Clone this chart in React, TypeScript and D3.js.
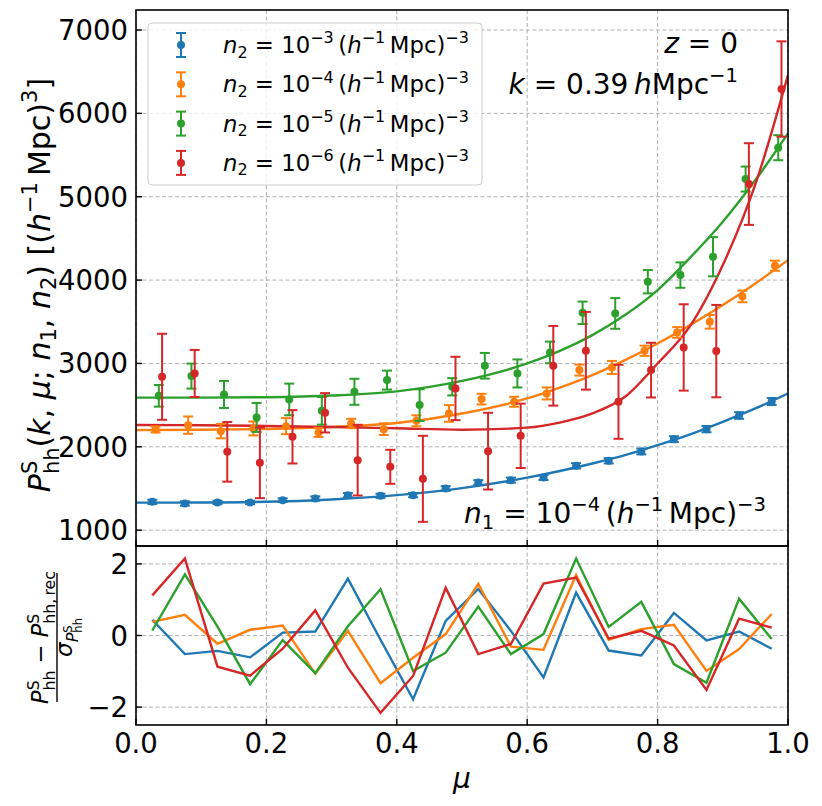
import React from 'react';
import * as d3 from 'd3';

// ---------- data ----------
const muBins = [0.025, 0.075, 0.125, 0.175, 0.225, 0.275, 0.325, 0.375, 0.425, 0.475,
  0.525, 0.575, 0.625, 0.675, 0.725, 0.775, 0.825, 0.875, 0.925, 0.975];
const seriesShift = [0, 0.005, 0.01, 0.015];
const seriesExp = ['−3', '−4', '−5', '−6'];

const pBlue = [1340, 1320, 1332, 1332, 1360, 1380, 1420, 1412, 1420, 1500, 1572, 1600, 1632, 1772, 1832, 1944, 2092, 2212, 2376, 2544];
const eBlue = [25, 25, 20, 20, 22, 25, 25, 25, 25, 28, 28, 30, 30, 32, 32, 35, 35, 38, 40, 42];
const pOrange = [2208, 2260, 2188, 2220, 2248, 2172, 2280, 2212, 2312, 2400, 2572, 2540, 2640, 2920, 2952, 3152, 3372, 3500, 3804, 4172];
const eOrange = [36, 104, 86, 84, 96, 54, 56, 70, 66, 100, 64, 60, 72, 66, 78, 62, 64, 82, 70, 60];
const pGreen = [2612, 2848, 2628, 2352, 2568, 2432, 2660, 2800, 2500, 2720, 2972, 2880, 3132, 3608, 3600, 3980, 4060, 4280, 5212, 5588];
const eGreen = [130, 150, 162, 174, 190, 166, 156, 114, 190, 104, 154, 168, 130, 134, 184, 140, 152, 235, 150, 150];
const pRed = [2840, 2880, 1940, 1808, 2120, 2408, 1840, 1760, 1616, 2700, 1948, 2132, 2972, 3152, 2540, 2920, 3192, 3148, 5152, 6292];
const eRed = [516, 282, 358, 424, 320, 236, 424, 204, 516, 380, 460, 386, 478, 466, 444, 328, 518, 554, 490, 572];

const curveMu = [0, 0.1, 0.2, 0.3, 0.4, 0.5, 0.6, 0.65, 0.7, 0.75, 0.8, 0.85, 0.9, 0.95, 1.0];
const fitBlue = [1330, 1332, 1340, 1368, 1420, 1505, 1630, 1710, 1800, 1900, 2020, 2150, 2300, 2460, 2640];
const fitOrange = [2200, 2204, 2214, 2238, 2285, 2400, 2580, 2710, 2860, 3040, 3240, 3460, 3700, 3960, 4240];
const fitGreen = [2590, 2590, 2595, 2615, 2665, 2790, 3000, 3150, 3340, 3580, 3880, 4270, 4700, 5200, 5760];
const fitRed = [2262, 2258, 2250, 2238, 2222, 2205, 2230, 2290, 2400, 2600, 3000, 3450, 4180, 5150, 6460];

const resBlue = [0.44, -0.52, -0.43, -0.61, 0.08, 0.11, 1.59, -0.12, -1.78, 0.41, 1.30, 0.13, -1.17, 1.20, -0.42, -0.56, 0.63, -0.14, 0.11, -0.37];
const resOrange = [0.38, 0.58, -0.23, 0.16, 0.28, -1.07, 0.13, -1.33, -0.62, 0.04, 1.44, -0.31, -0.40, 1.69, -0.12, 0.18, 0.30, -0.99, -0.38, 0.60];
const resGreen = [0.14, 1.71, 0.25, -1.36, -0.13, -1.05, 0.26, 1.29, -0.99, -0.48, 0.81, -0.52, 0.04, 2.15, 0.24, 0.94, -0.80, -1.32, 1.03, -0.10];
const resRed = [1.12, 2.15, -0.87, -1.12, -0.37, 0.70, -0.90, -2.16, -1.13, 1.33, -0.52, -0.24, 1.45, 1.62, -0.09, 0.13, -0.28, -1.52, 0.47, 0.22];

const xTicks = [0, 0.2, 0.4, 0.6, 0.8, 1.0];
const xTickLabels = ['0.0', '0.2', '0.4', '0.6', '0.8', '1.0'];
const yTicksTop = [1000, 2000, 3000, 4000, 5000, 6000, 7000];
const yTicksBot = [-2, 0, 2];
const yTickLabelsBot = ['−2', '0', '2'];

const points = [pBlue, pOrange, pGreen, pRed];
const errors = [eBlue, eOrange, eGreen, eRed];
const fits = [fitBlue, fitOrange, fitGreen, fitRed];
const residuals = [resBlue, resOrange, resGreen, resRed];

// ---------- styles ----------
const colors = ['#1f77b4', '#ff7f0e', '#2ca02c', '#d62728'];
const FONT = 'DejaVu Sans';
const L = 136, R = 788, T1 = 10, B1 = 546, T2 = 546, B2 = 725;

type Seg = { t: string; it?: boolean; s?: number; o?: number; dx?: number };
const SUP = { s: 0.7, o: -0.42 };
const SUB = { s: 0.7, o: 0.2 };
const SUBST = { s: 0.7, o: 0.3 };

function MText(props: { x: number; y: number; size: number; anchor?: string; segs: Seg[] }) {
  const { x, y, size, anchor, segs } = props;
  let cur = 0;
  return (
    <text x={x} y={y} fontSize={size} fontFamily={FONT} textAnchor={anchor || 'start'}
      style={{ whiteSpace: 'pre' }} fill="#000">
      {segs.map((sg, i) => {
        const target = (sg.o || 0) * size;
        const dy = target - cur;
        cur = target;
        return (
          <tspan key={i} dy={dy} dx={sg.dx ? sg.dx * size : undefined}
            fontSize={(sg.s || 1) * size} fontStyle={sg.it ? 'italic' : 'normal'}>{sg.t}</tspan>
        );
      })}
    </text>
  );
}

const densSegs = (sub: string, exp: string): Seg[] => [
  { t: 'n', it: true }, { t: sub, ...SUB }, { t: ' = 10' }, { t: exp, ...SUP },
  { t: '\u2009(' }, { t: 'h', it: true }, { t: '−1', ...SUP }, { t: '\u2009Mpc)' }, { t: '−3', ...SUP },
];

export default function App() {
  const x = d3.scaleLinear().domain([0, 1]).range([L, R]);
  const yT = d3.scaleLinear().domain([810, 7240]).range([B1, T1]);
  const yB = d3.scaleLinear().domain([-2.5, 2.5]).range([B2, T2]);

  const fitLine = (vals: number[]) =>
    d3.line<number>().x((_, i) => x(curveMu[i])).y((v) => yT(v)).curve(d3.curveMonotoneX)(vals) || '';
  const resLine = (vals: number[]) =>
    d3.line<number>().x((_, i) => x(muBins[i])).y((v) => yB(v))(vals) || '';

  const grid = { stroke: '#b0b0b0', strokeWidth: 1, strokeDasharray: '4,2.5' };
  const cap = 5;

  return (
    <svg width={822} height={806} style={{ display: 'block', position: 'absolute', left: 0, top: 0 }}>
      <defs>
        <clipPath id="cTop"><rect x={L} y={T1} width={R - L} height={B1 - T1} /></clipPath>
        <clipPath id="cBot"><rect x={L} y={T2} width={R - L} height={B2 - T2} /></clipPath>
      </defs>
      <rect x={0} y={0} width={822} height={806} fill="#fff" />

      {/* grids */}
      {xTicks.map((t, i) => (
        <g key={'gx' + i}>
          <line x1={x(t)} x2={x(t)} y1={T1} y2={B1} {...grid} />
          <line x1={x(t)} x2={x(t)} y1={T2} y2={B2} {...grid} />
        </g>
      ))}
      {yTicksTop.map((t, i) => (
        <line key={'gyt' + i} x1={L} x2={R} y1={yT(t)} y2={yT(t)} {...grid} />
      ))}
      {yTicksBot.map((t, i) => (
        <line key={'gyb' + i} x1={L} x2={R} y1={yB(t)} y2={yB(t)} {...grid} />
      ))}

      {/* top panel */}
      <g clipPath="url(#cTop)">
        {fits.map((f, si) => (
          <path key={'fit' + si} d={fitLine(f)} fill="none" stroke={colors[si]} strokeWidth={2.4} />
        ))}
        {points.map((ps, si) => (
          <g key={'pts' + si} stroke={colors[si]} fill={colors[si]}>
            {ps.map((v, i) => {
              const cx = x(muBins[i] + seriesShift[si]);
              const e = errors[si][i];
              return (
                <g key={i}>
                  <line x1={cx} x2={cx} y1={yT(v - e)} y2={yT(v + e)} strokeWidth={2} />
                  <line x1={cx - cap} x2={cx + cap} y1={yT(v - e)} y2={yT(v - e)} strokeWidth={2} />
                  <line x1={cx - cap} x2={cx + cap} y1={yT(v + e)} y2={yT(v + e)} strokeWidth={2} />
                  <circle cx={cx} cy={yT(v)} r={4} stroke="none" />
                </g>
              );
            })}
          </g>
        ))}
      </g>

      {/* bottom panel */}
      <g clipPath="url(#cBot)">
        {residuals.map((r, si) => (
          <path key={'res' + si} d={resLine(r)} fill="none" stroke={colors[si]} strokeWidth={2.4} />
        ))}
      </g>

      {/* ticks */}
      {yTicksTop.map((t, i) => (
        <g key={'yt' + i}>
          <line x1={L} x2={L + 6} y1={yT(t)} y2={yT(t)} stroke="#000" strokeWidth={1.4} />
          <text x={128} y={yT(t) + 10} fontSize={27.5} fontFamily={FONT} textAnchor="end">{t}</text>
        </g>
      ))}
      {yTicksBot.map((t, i) => (
        <g key={'yb' + i}>
          <line x1={L} x2={L + 6} y1={yB(t)} y2={yB(t)} stroke="#000" strokeWidth={1.4} />
          <text x={128} y={yB(t) + 10} fontSize={27.5} fontFamily={FONT} textAnchor="end">{yTickLabelsBot[i]}</text>
        </g>
      ))}
      {xTicks.map((t, i) => (
        <g key={'xt' + i}>
          <line x1={x(t)} x2={x(t)} y1={B1} y2={B1 - 6} stroke="#000" strokeWidth={1.4} />
          <line x1={x(t)} x2={x(t)} y1={B2} y2={B2 - 6} stroke="#000" strokeWidth={1.4} />
          <text x={x(t)} y={753} fontSize={27.5} fontFamily={FONT} textAnchor="middle">{xTickLabels[i]}</text>
        </g>
      ))}

      {/* frames */}
      <rect x={L} y={T1} width={R - L} height={B1 - T1} fill="none" stroke="#000" strokeWidth={1.6} />
      <rect x={L} y={T2} width={R - L} height={B2 - T2} fill="none" stroke="#000" strokeWidth={1.6} />

      {/* legend */}
      <rect x={148} y={23} width={334} height={162} rx={4} fill="#fff" fillOpacity={0.8} stroke="#cccccc" strokeWidth={1} />
      {colors.map((c, si) => {
        const cy = 45 + si * 39.3;
        return (
          <g key={'lg' + si}>
            <g stroke={c} fill={c}>
              <line x1={181} x2={181} y1={cy - 12} y2={cy + 12} strokeWidth={2} />
              <line x1={176} x2={186} y1={cy - 12} y2={cy - 12} strokeWidth={2} />
              <line x1={176} x2={186} y1={cy + 12} y2={cy + 12} strokeWidth={2} />
              <circle cx={181} cy={cy} r={4} stroke="none" />
            </g>
            <MText x={223} y={cy + 8} size={22.8} segs={densSegs('2', seriesExp[si])} />
          </g>
        );
      })}

      {/* annotations */}
      <MText x={738} y={53} size={28} anchor="end" segs={[{ t: 'z', it: true }, { t: ' = 0' }]} />
      <MText x={738} y={94} size={28} anchor="end"
        segs={[{ t: 'k', it: true }, { t: ' = 0.39\u2009' }, { t: 'h', it: true }, { t: 'Mpc' }, { t: '−1', ...SUP }]} />
      <MText x={766} y={523} size={28} anchor="end" segs={densSegs('1', '−4')} />

      {/* axis labels */}
      <g transform="translate(50,285) rotate(-90)">
        <MText x={0} y={0} size={30} anchor="middle" segs={[
          { t: 'P', it: true }, { t: 'S', ...SUP }, { t: 'hh', ...SUBST, dx: -0.635 * 0.7 },
          { t: '(' }, { t: 'k', it: true }, { t: ', ' }, { t: 'μ', it: true }, { t: '; ' },
          { t: 'n', it: true }, { t: '1', ...SUB }, { t: ', ' }, { t: 'n', it: true }, { t: '2', ...SUB },
          { t: ') [(' }, { t: 'h', it: true }, { t: '−1', ...SUP }, { t: '\u2009Mpc)' }, { t: '3', ...SUP }, { t: ']' },
        ]} />
      </g>
      <g transform="translate(57,637.5) rotate(-90)">
        <MText x={0} y={-9} size={22.5} anchor="middle" segs={[
          { t: 'P', it: true }, { t: 'S', ...SUP }, { t: 'hh', ...SUBST, dx: -0.635 * 0.7 },
          { t: ' − ' },
          { t: 'P', it: true }, { t: 'S', ...SUP }, { t: 'hh,\u2009rec', ...SUBST, dx: -0.635 * 0.7 },
        ]} />
        <line x1={-64.5} x2={64.5} y1={0} y2={0} stroke="#000" strokeWidth={1.4} />
        <MText x={0} y={15} size={23} anchor="middle" segs={[
          { t: 'σ', it: true }, { t: 'P', it: true, s: 0.7, o: 0.25 }, { t: 'S', s: 0.5, o: -0.02 },
          { t: 'hh', s: 0.5, o: 0.45, dx: -0.635 * 0.5 },
        ]} />
      </g>
      <text x={462} y={788} fontSize={28} fontFamily={FONT} fontStyle="italic" textAnchor="middle">μ</text>
    </svg>
  );
}
